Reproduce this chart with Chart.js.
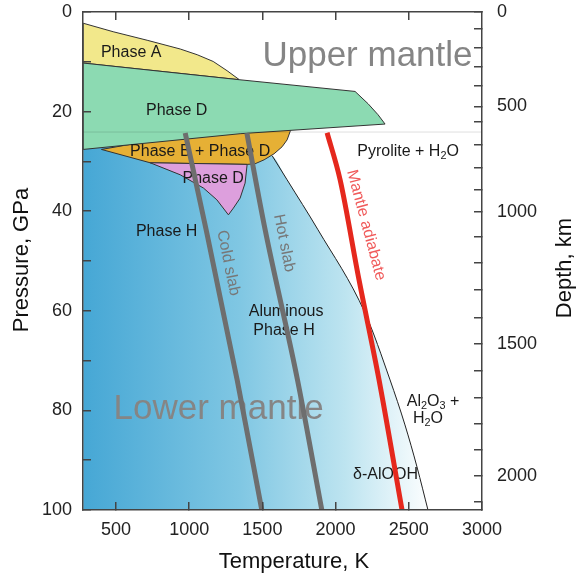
<!DOCTYPE html>
<html>
<head>
<meta charset="utf-8">
<script src="https://cdn.jsdelivr.net/npm/chart.js@4.4.1/dist/chart.umd.min.js"></script>
<style>
  html, body { margin: 0; padding: 0; background: #fff; }
  #wrap { width: 580px; height: 575px; }
</style>
</head>
<body>
<div id="wrap"><canvas id="phaseChart"></canvas></div>
<script>
// axis ticks
var tempTicks = [500, 1000, 1500, 2000, 2500, 3000];
var pressTicks = [0, 10, 20, 30, 40, 50, 60, 70, 80, 90, 100];
var depthKm = [0, 100, 200, 300, 400, 500, 600, 700, 800, 900, 1000, 1100, 1200, 1300, 1400, 1500, 1600, 1700, 1800, 1900, 2000, 2100];
var depthAtPress = [0, 3.36, 7.1, 10.9, 14.8, 18.97, 22.1, 26.7, 31.3, 35.7, 40.1, 45.1, 50.4, 55.8, 61.4, 66.7, 72.1, 77.4, 82.6, 87.9, 93.1, 98.4];

// phase fields, [temperature K, pressure GPa]
var phaseA = [[276, 2.25], [481, 3.96], [713, 5.67], [939, 7.43], [1055, 8.58], [1164, 9.93], [1259, 11.79], [1343, 13.6], [276, 10.25], [276, 2.25]];
var phaseDupper = [[276, 10.25], [1343, 13.6], [2133, 15.95], [2222, 18.42], [2290, 20.63], [2338, 22.5], [1348, 24.44], [276, 27.6], [276, 10.25]];
var phaseBD = [[401, 27.6], [1000, 24.5], [1703, 23.25], [1689, 24.05], [1669, 25.67], [1635, 27.06], [1580, 28.47], [1512, 29.68], [1450, 30.48], [1396, 30.6], [734, 30.28], [401, 27.6]];
var phaseDlower = [[734, 30.28], [1396, 30.6], [1382, 34.36], [1348, 37.37], [1302, 39.38], [1268, 40.73], [1189, 37.71], [1098, 35.36], [939, 32.69], [734, 30.28]];
var phaseHfill = [[276, 27.3], [1000, 25], [1567, 28.87], [1669, 33.7], [1880, 43.74], [2201, 60.42], [2372, 73.88], [2474, 82.92], [2556, 91.35], [2631, 100]];
var phaseHedge = [[1567, 28.87], [1669, 33.7], [1880, 43.74], [2201, 60.42], [2372, 73.88], [2474, 82.92], [2556, 91.35], [2631, 100]];

// geotherms
var coldSlab = [[973, 24.31], [1116, 43.74], [1328, 73.88], [1496, 100]];
var hotSlab = [[1394, 24.31], [1519, 43.74], [1740, 73.88], [1906, 100]];
var adiabat = [[1942, 24.25], [2031, 33.69], [2160, 53.78], [2297, 73.88], [2454, 100]];
var disc660 = [[276, 24.1], [3000, 24.1]];

function pts(arr) {
    return arr.map(function (p) { return { x: p[0], y: p[1] }; });
}

function blueFill(c) {
    var chart = c.chart, a = chart.chartArea;
    if (!a) return '#6bbbe0';
    var g = chart.ctx.createLinearGradient(a.left, 0, chart.scales.x.getPixelForValue(2660), 0);
    g.addColorStop(0, '#46a7d5');
    g.addColorStop(0.45, '#80c7e3');
    g.addColorStop(0.75, '#bde4f0');
    g.addColorStop(1, '#ffffff');
    return g;
}

var FONT = "'Liberation Sans', Arial, sans-serif";
Chart.defaults.font.family = FONT;
Chart.defaults.color = '#222';

// text inside the plot, placed in data units
var notes = [
    { parts: [['Phase A', 0]], T: 604, P: 8.1, size: 16 },
    { parts: [['Phase D', 0]], T: 915, P: 19.8, size: 16 },
    { parts: [['Phase B + Phase D', 0]], T: 1075, P: 28.1, size: 16 },
    { parts: [['Phase D', 0]], T: 1164, P: 33.4, size: 16 },
    { parts: [['Phase H', 0]], T: 846, P: 44.0, size: 16 },
    { parts: [['Aluminous', 0]], T: 1662, P: 60.2, size: 16 },
    { parts: [['Phase H', 0]], T: 1648, P: 64.0, size: 16 },
    { parts: [['Pyrolite + H', 0], ['2', 1], ['O', 0]], T: 2495, P: 28.1, size: 16 },
    { parts: [['Al', 0], ['2', 1], ['O', 0], ['3', 1], [' +', 0]], T: 2666, P: 78.3, size: 16 },
    { parts: [['H', 0], ['2', 1], ['O', 0]], T: 2631, P: 81.7, size: 16 },
    { parts: [['δ-AlOOH', 0]], T: 2341, P: 92.8, size: 16 },
    { parts: [['Cold slab', 0]], T: 1266, P: 50.4, size: 16, color: '#777', rot: 78.5 },
    { parts: [['Hot slab', 0]], T: 1648, P: 46.4, size: 16, color: '#777', rot: 78.7 },
    { parts: [['Mantle adiabate', 0]], T: 2208, P: 42.8, size: 16, color: '#f05a5a', rot: 75 },
    { parts: [['Upper mantle', 0]], T: 2218, P: 10.8, size: 35, color: '#858585', base: 'alphabetic' },
    { parts: [['Lower mantle', 0]], T: 1201, P: 81.7, size: 35, color: '#858585', base: 'alphabetic' }
];

function drawParts(ctx, parts, size) {
    var w = 0;
    parts.forEach(function (p) {
        ctx.font = (p[1] ? size * 0.68 : size) + 'px ' + FONT;
        w += ctx.measureText(p[0]).width;
    });
    var cx = -w / 2;
    parts.forEach(function (p) {
        ctx.font = (p[1] ? size * 0.68 : size) + 'px ' + FONT;
        ctx.fillText(p[0], cx, p[1] ? size * 0.28 : 0);
        cx += ctx.measureText(p[0]).width;
    });
}

var labelPlugin = {
    id: 'phaseLabels',
    afterDatasetDraw: function (chart, args) {
        if (args.index !== 3) return; // after fills, before slabs/adiabat
        var ctx = chart.ctx, sx = chart.scales.x, sy = chart.scales.y;
        ctx.save();
        ctx.textAlign = 'left';
        notes.forEach(function (n) {
            ctx.save();
            ctx.translate(sx.getPixelForValue(n.T), sy.getPixelForValue(n.P));
            if (n.rot) ctx.rotate(n.rot * Math.PI / 180);
            ctx.fillStyle = n.color || '#1a1a1a';
            ctx.textBaseline = n.base || 'middle';
            drawParts(ctx, n.parts, n.size);
            ctx.restore();
        });
        ctx.restore();
    },
    afterDraw: function (chart) {
        var ctx = chart.ctx;
        ctx.save();
        ctx.fillStyle = '#111';
        ctx.font = '22px ' + FONT;
        ctx.textAlign = 'center';
        ctx.textBaseline = 'alphabetic';
        ctx.fillText('Temperature, K', 294, 568);
        ctx.save();
        ctx.translate(28, 260);
        ctx.rotate(-Math.PI / 2);
        ctx.fillText('Pressure, GPa', 0, 0);
        ctx.restore();
        ctx.save();
        ctx.translate(571, 268);
        ctx.rotate(-Math.PI / 2);
        ctx.fillText('Depth, km', 0, 0);
        ctx.restore();
        ctx.restore();
    }
};

var gridOpts = { drawOnChartArea: false, drawTicks: true, tickLength: -8, color: '#444', lineWidth: 1.5, z: 1 };
var borderOpts = { display: true, color: '#444', width: 1.5, z: 1 };
var tickFont = { size: 18 };

// fixed axis sizes, and no extra room for overhanging labels
function fixSize(w, h) {
    return function (s) {
        if (w !== null) s.width = w;
        if (h !== null) s.height = h;
        s.paddingTop = 0; s.paddingBottom = 0; s.paddingLeft = 0; s.paddingRight = 0;
    };
}

new Chart(document.getElementById('phaseChart'), {
    type: 'scatter',
    data: {
        datasets: [
            { data: pts(adiabat), showLine: true, borderColor: '#e5281d', borderWidth: 5, cubicInterpolationMode: 'monotone', fill: false },
            { data: pts(hotSlab), showLine: true, borderColor: '#6e6e6e', borderWidth: 5, cubicInterpolationMode: 'monotone', fill: false },
            { data: pts(coldSlab), showLine: true, borderColor: '#6e6e6e', borderWidth: 5, cubicInterpolationMode: 'monotone', fill: false },
            { data: pts(disc660), showLine: true, borderColor: 'rgba(0,0,0,0.13)', borderWidth: 1, fill: false },
            { data: pts(phaseDupper), showLine: true, borderColor: '#333', borderWidth: 1, backgroundColor: '#8cdab2', fill: 'shape' },
            { data: pts(phaseDlower), showLine: true, borderColor: '#333', borderWidth: 1, backgroundColor: '#dd9fdd', fill: 'shape' },
            { data: pts(phaseBD), showLine: true, borderColor: '#333', borderWidth: 1, backgroundColor: '#e6b035', fill: 'shape' },
            { data: pts(phaseA), showLine: true, borderColor: '#333', borderWidth: 1, backgroundColor: '#f2e88b', fill: 'shape' },
            { data: pts(phaseHedge), showLine: true, borderColor: '#222', borderWidth: 1, cubicInterpolationMode: 'monotone', fill: false },
            { data: pts(phaseHfill), showLine: true, borderWidth: 0, borderColor: 'rgba(0,0,0,0)', backgroundColor: blueFill, fill: 'start', cubicInterpolationMode: 'monotone' }
        ]
    },
    options: {
        responsive: true,
        maintainAspectRatio: false,
        animation: false,
        events: [],
        layout: { padding: 0, autoPadding: false },
        elements: { point: { radius: 0 } },
        plugins: { legend: { display: false }, tooltip: { enabled: false } },
        scales: {
            x: {
                type: 'linear', position: 'bottom', min: 275, max: 3000,
                afterBuildTicks: function (s) { s.ticks = tempTicks.map(function (v) { return { value: v }; }); },
                afterFit: fixSize(null, 65),
                grid: gridOpts, border: borderOpts,
                ticks: { font: tickFont, padding: 17, maxRotation: 0, autoSkip: false, callback: function (v) { return String(v); } }
            },
            x2: {
                type: 'linear', position: 'top', min: 275, max: 3000,
                afterBuildTicks: function (s) { s.ticks = tempTicks.slice(0, 5).map(function (v) { return { value: v }; }); },
                afterFit: fixSize(null, 12),
                grid: gridOpts, border: borderOpts,
                ticks: { display: false }
            },
            y: {
                type: 'linear', position: 'left', reverse: true, min: 0, max: 100,
                afterBuildTicks: function (s) { s.ticks = pressTicks.map(function (v) { return { value: v }; }); },
                afterFit: fixSize(83, null),
                grid: gridOpts, border: borderOpts,
                ticks: { font: tickFont, padding: 19, autoSkip: false, callback: function (v) { return v % 20 === 0 ? String(v) : ''; } }
            },
            y2: {
                type: 'linear', position: 'right', reverse: true, min: 0, max: 100,
                afterBuildTicks: function (s) { s.ticks = depthAtPress.map(function (v) { return { value: v }; }); },
                afterFit: fixSize(98, null),
                grid: gridOpts, border: borderOpts,
                ticks: { font: tickFont, padding: 23, autoSkip: false, callback: function (v, i) { return depthKm[i] % 500 === 0 ? String(depthKm[i]) : ''; } }
            }
        }
    },
    plugins: [labelPlugin]
});
</script>
</body>
</html>
